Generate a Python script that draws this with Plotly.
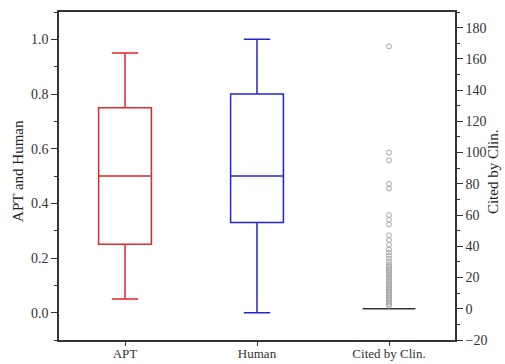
import plotly.graph_objects as go

categories = ["APT", "Human", "Cited by Clin."]

apt_stats = dict(lowerfence=0.05, q1=0.25, median=0.5, q3=0.75, upperfence=0.95)
human_stats = dict(lowerfence=0.0, q1=0.33, median=0.5, q3=0.8, upperfence=1.0)
clin_stats = dict(lowerfence=0, q1=0, median=0, q3=0, upperfence=0)
clin_outliers = [2, 3, 4, 5, 6, 7, 8, 9, 10, 11, 12, 13, 14, 15, 16, 17, 18, 19, 20,
                 21, 22, 23, 24, 25, 26, 27, 28, 30, 32, 34, 36, 38, 41, 44, 47,
                 54, 57, 60, 77, 80, 95, 100, 168]

left_ticks = [0.0, 0.2, 0.4, 0.6, 0.8, 1.0]
right_ticks = [-20, 0, 20, 40, 60, 80, 100, 120, 140, 160, 180]

RED = "#e3262b"
BLUE = "#2424d4"
FONT = "Liberation Serif"

fig = go.Figure()

def box(name, stats, color, yaxis):
    return go.Box(
        x=[name], q1=[stats["q1"]], median=[stats["median"]], q3=[stats["q3"]],
        lowerfence=[stats["lowerfence"]], upperfence=[stats["upperfence"]],
        boxpoints=False, width=0.4, whiskerwidth=0.5,
        line=dict(color=color, width=1.5), fillcolor="rgba(0,0,0,0)",
        yaxis=yaxis, showlegend=False, hoverinfo="skip",
    )

fig.add_trace(box("APT", apt_stats, RED, "y"))
fig.add_trace(box("Human", human_stats, BLUE, "y"))
fig.add_trace(box("Cited by Clin.", clin_stats, "#333333", "y2"))
fig.add_trace(go.Scatter(
    x=["Cited by Clin."] * len(clin_outliers), y=clin_outliers, mode="markers",
    marker=dict(symbol="circle-open", size=5, color="#a8a8a8", line=dict(width=1)),
    yaxis="y2", showlegend=False, hoverinfo="skip",
))

axis_common = dict(
    showline=True, linecolor="#333333", linewidth=1.5, ticks="outside",
    tickcolor="#333333", tickwidth=1.2, showgrid=False, zeroline=False,
    automargin=False,
    tickfont=dict(family=FONT, size=14, color="#333333"),
)

fig.update_layout(
    width=505, height=364,
    margin=dict(l=59, r=50, t=12, b=24),
    paper_bgcolor="white", plot_bgcolor="white",
    font=dict(family=FONT, color="#222222"),
    xaxis=dict(
        **{**axis_common, "tickfont": dict(family=FONT, size=13, color="#333333")},
        ticklen=4, ticklabelstandoff=-3, mirror=True, type="category",
        categoryorder="array", categoryarray=categories, range=[-0.5, 2.5],
    ),
    yaxis=dict(
        **axis_common, ticklen=6, range=[-0.1, 1.1], tickvals=left_ticks,
        ticktext=[f"{v:.1f}" for v in left_ticks],
        minor=dict(ticks="outside", ticklen=3, dtick=0.1, tick0=0, tickcolor="#333333"),
    ),
    yaxis2=dict(
        **axis_common, ticklen=6, overlaying="y", side="right", range=[-20, 190],
        tickvals=right_ticks, ticktext=[("\u221220" if v < 0 else str(v)) for v in right_ticks],
        minor=dict(ticks="outside", ticklen=3, dtick=10, tick0=0, tickcolor="#333333"),
    ),
    annotations=[
        dict(text="APT and Human", xref="paper", yref="paper", x=-0.104, y=0.515,
             xanchor="center", yanchor="middle", textangle=-90, showarrow=False,
             font=dict(family=FONT, size=15, color="#222222")),
        dict(text="Cited by Clin.", xref="paper", yref="paper", x=1.096, y=0.512,
             xanchor="center", yanchor="middle", textangle=-90, showarrow=False,
             font=dict(family=FONT, size=15, color="#222222")),
    ],
)

fig.write_html("out.html", config={"displayModeBar": False},
               post_script="document.body.style.margin='0';document.body.style.overflow='hidden';")
